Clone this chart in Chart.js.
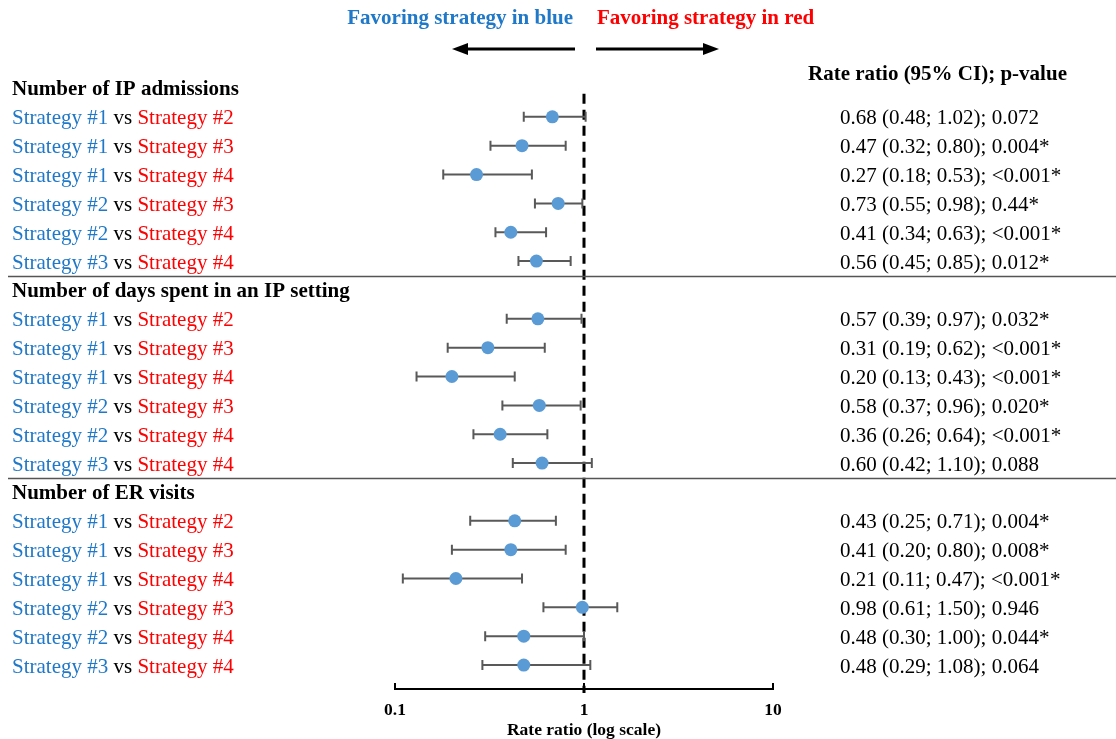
<!DOCTYPE html>
<html>
<head>
<meta charset="utf-8">
<script src="https://cdn.jsdelivr.net/npm/chart.js@4.4.0/dist/chart.umd.min.js"></script>
<style>
html,body{margin:0;padding:0;background:#fff;}
#wrap{width:1116px;height:739px;}
</style>
</head>
<body>
<div id="wrap"><canvas id="c" width="1116" height="739"></canvas></div>
<script>
const categories = ["Number of IP admissions", "Number of days spent in an IP setting", "Number of ER visits"];
const blueLabels = ["Strategy #1","Strategy #1","Strategy #1","Strategy #2","Strategy #2","Strategy #3"];
const redLabels  = ["Strategy #2","Strategy #3","Strategy #4","Strategy #3","Strategy #4","Strategy #4"];
const rr = [0.68,0.47,0.27,0.73,0.41,0.56, 0.57,0.31,0.20,0.58,0.36,0.60, 0.43,0.41,0.21,0.98,0.48,0.48];
const lo = [0.48,0.32,0.18,0.55,0.34,0.45, 0.39,0.19,0.13,0.37,0.26,0.42, 0.25,0.20,0.11,0.61,0.30,0.29];
const hi = [1.02,0.80,0.53,0.98,0.63,0.85, 0.97,0.62,0.43,0.96,0.64,1.10, 0.71,0.80,0.47,1.50,1.00,1.08];
const pvals = ["0.072","0.004*","<0.001*","0.44*","<0.001*","0.012*",
               "0.032*","<0.001*","<0.001*","0.020*","<0.001*","0.088",
               "0.004*","0.008*","<0.001*","0.946","0.044*","0.064"];
const tickVals = [0.1, 1, 10];
const xTitle = "Rate ratio (log scale)";
const colHeader = "Rate ratio (95% CI); p-value";
const favorBlue = "Favoring strategy in blue";
const favorRed = "Favoring strategy in red";

const BLUE = "#1f78c8", RED = "#ff0000", DOT = "#5b9bd5", BAR = "#595959";
const SERIF = "'Liberation Serif', 'Times New Roman', serif";
const perCat = blueLabels.length;
const rowIndex = i => Math.floor(i / perCat) * (perCat + 1) + 1 + (i % perCat);
const points = rr.map((v, i) => ({x: v, y: rowIndex(i)}));
const TY = 2; // text vertical nudge

const forestPlugin = {
  id: 'forest',
  beforeDatasetsDraw(chart) {
    const {ctx, scales: {x, y}, chartArea} = chart;
    ctx.save();
    ctx.strokeStyle = "#000"; ctx.lineWidth = 3; ctx.setLineDash([10, 6]);
    ctx.beginPath();
    ctx.moveTo(x.getPixelForValue(1), y.getPixelForValue(0.2));
    ctx.lineTo(x.getPixelForValue(1), chartArea.bottom + 4);
    ctx.stroke();
    ctx.setLineDash([]);
    ctx.strokeStyle = BAR; ctx.lineWidth = 2;
    rr.forEach((v, i) => {
      const py = y.getPixelForValue(rowIndex(i));
      const x1 = x.getPixelForValue(lo[i]), x2 = x.getPixelForValue(hi[i]);
      ctx.beginPath();
      ctx.moveTo(x1, py); ctx.lineTo(x2, py);
      ctx.moveTo(x1, py - 5); ctx.lineTo(x1, py + 5);
      ctx.moveTo(x2, py - 5); ctx.lineTo(x2, py + 5);
      ctx.stroke();
    });
    ctx.restore();
  },
  afterDraw(chart) {
    const {ctx, scales: {x, y}, chartArea} = chart;
    ctx.save();
    ctx.strokeStyle = "#000"; ctx.lineWidth = 2;
    tickVals.forEach(v => {
      const px = x.getPixelForValue(v);
      ctx.beginPath(); ctx.moveTo(px, chartArea.bottom); ctx.lineTo(px, chartArea.bottom - 6); ctx.stroke();
    });
    ctx.strokeStyle = "#555"; ctx.lineWidth = 1.5;
    for (let s = 1; s < categories.length; s++) {
      const py = Math.round(y.getPixelForValue(s * (perCat + 1) - 0.5)) + 0.5;
      ctx.beginPath(); ctx.moveTo(8, py); ctx.lineTo(1116, py); ctx.stroke();
    }
    ctx.textBaseline = "middle";
    ctx.font = "bold 21px " + SERIF; ctx.fillStyle = "#000"; ctx.textAlign = "left";
    categories.forEach((c, s) => ctx.fillText(c, 12, y.getPixelForValue(s * (perCat + 1)) + TY));
    rr.forEach((v, i) => {
      const py = y.getPixelForValue(rowIndex(i)) + TY;
      const j = i % perCat;
      let cx = 12;
      ctx.font = "21px " + SERIF;
      ctx.fillStyle = BLUE; ctx.fillText(blueLabels[j], cx, py); cx += ctx.measureText(blueLabels[j]).width;
      ctx.fillStyle = "#000"; ctx.fillText(" vs ", cx, py); cx += ctx.measureText(" vs ").width;
      ctx.fillStyle = RED; ctx.fillText(redLabels[j], cx, py);
      ctx.fillStyle = "#000";
      ctx.fillText(v.toFixed(2) + " (" + lo[i].toFixed(2) + "; " + hi[i].toFixed(2) + "); " + pvals[i], 840, py);
    });
    ctx.font = "bold 21px " + SERIF;
    ctx.fillText(colHeader, 808, 75);
    const x1 = x.getPixelForValue(1);
    ctx.fillStyle = BLUE; ctx.textAlign = "right"; ctx.fillText(favorBlue, x1 - 11, 19);
    ctx.fillStyle = RED; ctx.textAlign = "left"; ctx.fillText(favorRed, x1 + 13, 19);
    ctx.strokeStyle = "#000"; ctx.fillStyle = "#000"; ctx.lineWidth = 3;
    const ay = 49;
    ctx.beginPath(); ctx.moveTo(x1 - 9, ay); ctx.lineTo(x1 - 118, ay); ctx.stroke();
    ctx.beginPath(); ctx.moveTo(x1 - 132, ay); ctx.lineTo(x1 - 116, ay - 6); ctx.lineTo(x1 - 116, ay + 6); ctx.closePath(); ctx.fill();
    ctx.beginPath(); ctx.moveTo(x1 + 12, ay); ctx.lineTo(x1 + 121, ay); ctx.stroke();
    ctx.beginPath(); ctx.moveTo(x1 + 135, ay); ctx.lineTo(x1 + 119, ay - 6); ctx.lineTo(x1 + 119, ay + 6); ctx.closePath(); ctx.fill();
    ctx.restore();
  }
};

new Chart(document.getElementById('c'), {
  type: 'scatter',
  data: { datasets: [{ data: points, backgroundColor: DOT, borderWidth: 0, pointRadius: 6.5, pointHoverRadius: 6.5 }] },
  options: {
    responsive: false, animation: false, events: [],
    layout: { padding: { left: 395, right: 343, top: 88, bottom: 0 } },
    plugins: { legend: { display: false }, tooltip: { enabled: false } },
    scales: {
      x: {
        type: 'logarithmic', min: 0.1, max: 10,
        afterBuildTicks: s => { s.ticks = tickVals.map(v => ({value: v})); },
        afterFit: s => { s.height = 50; },
        ticks: { callback: v => String(v), color: "#000", padding: 13, maxRotation: 0, autoSkip: false,
                 font: { family: SERIF, size: 17.5, weight: 'bold', lineHeight: 1 } },
        grid: { display: false, drawTicks: false },
        border: { display: true, color: "#000", width: 2 },
        title: { display: true, text: xTitle, color: "#000", padding: { top: 4, bottom: 0 },
                 font: { family: SERIF, size: 17.5, weight: 'bold', lineHeight: 1 } }
      },
      y: { display: false, min: 0, max: 20.83, reverse: true }
    }
  },
  plugins: [forestPlugin]
});
</script>
</body>
</html>
